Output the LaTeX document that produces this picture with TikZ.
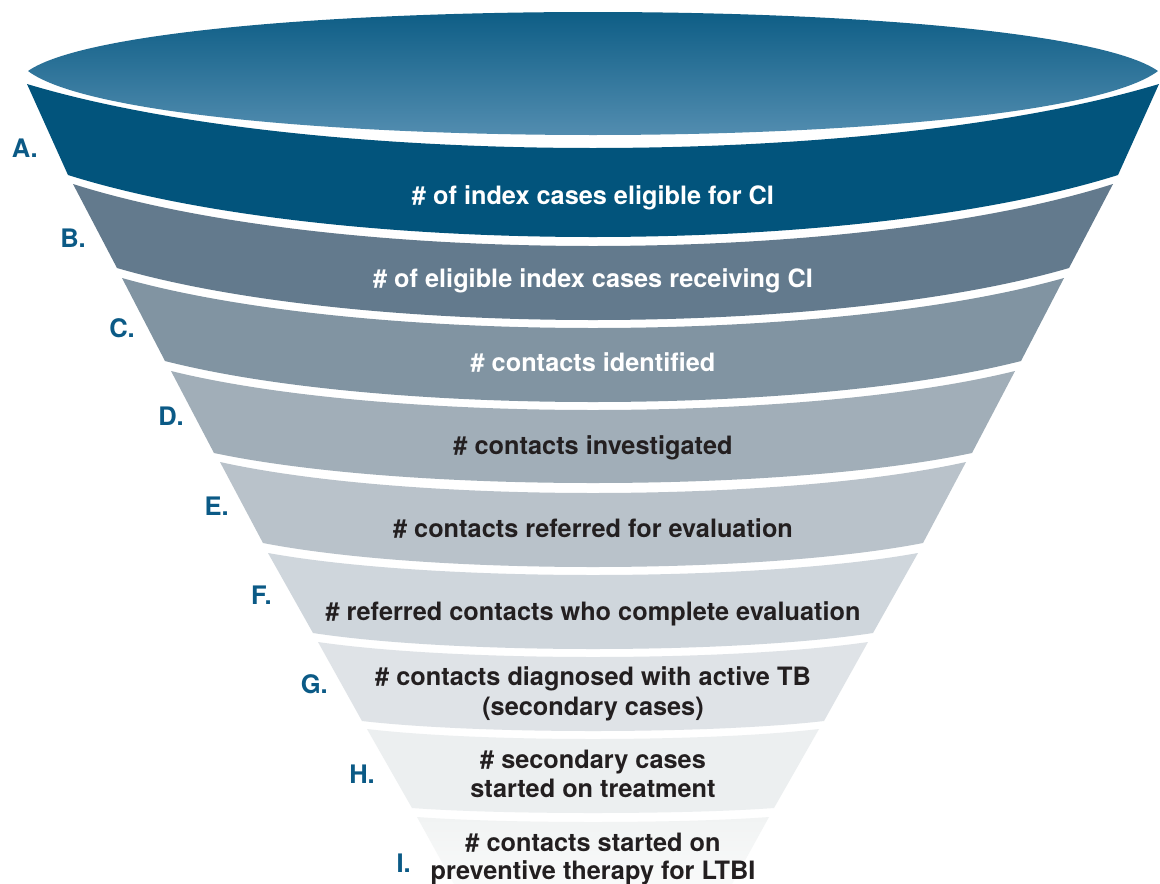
\documentclass[tikz,border=0pt]{standalone}
\usepackage{fontspec}
\setmainfont{TeX Gyre Heros}
\definecolor{bandA}{HTML}{02547C}
\definecolor{bandB}{HTML}{637A8D}
\definecolor{bandC}{HTML}{8194A2}
\definecolor{bandD}{HTML}{A1AEB8}
\definecolor{bandE}{HTML}{B9C2CA}
\definecolor{bandF}{HTML}{CFD6DC}
\definecolor{bandG}{HTML}{DFE3E7}
\definecolor{bandH}{HTML}{ECEFF0}
\definecolor{bandItop}{HTML}{F1F3F3}
\definecolor{bandIbot}{HTML}{F9FAFA}
\definecolor{ellTop}{HTML}{03567F}
\definecolor{ellMid}{HTML}{086D94}
\definecolor{ellBot}{HTML}{5E95B7}
\definecolor{labelblue}{HTML}{0B5A86}
\definecolor{darktext}{HTML}{231F20}
% band: #1 yt, #2 top half width, #3 top sag, #4 yb, #5 bottom half width, #6 bottom sag, #7 fill options
\newcommand{\funnelband}[7]{%
  \path[#7] ({593-#2},#1) .. controls ({593-0.5*#2},{#1+1.3333*#3}) and ({593+0.5*#2},{#1+1.3333*#3}) .. ({593+#2},#1)
    -- ({593+#5},#4) .. controls ({593+0.5*#5},{#4+1.3333*#6}) and ({593-0.5*#5},{#4+1.3333*#6}) .. ({593-#5},#4) -- cycle;}
\begin{document}
\begin{tikzpicture}[x=1pt,y=-1pt,
  bandtext/.style={font=\bfseries\fontsize{25.3}{30}\selectfont, anchor=base, inner sep=0pt},
  lighttext/.style={bandtext, text=white},
  darktxt/.style={bandtext, text=darktext},
  steplabel/.style={font=\bfseries\fontsize{25.5}{30}\selectfont, anchor=base east, inner sep=0pt, text=labelblue}]
\useasboundingbox[fill=white] (0,0) rectangle (1160,884);
% top ellipse (mouth of the funnel)
\shade[top color=ellTop, middle color=ellMid, bottom color=ellBot]
  (28,71) .. controls ({593-0.8*565},{71-1.3333*59}) and ({593+0.8*565},{71-1.3333*59}) .. (1158,71)
  .. controls ({593+0.8*565},{71+1.3333*64}) and ({593-0.8*565},{71+1.3333*64}) .. (28,71) -- cycle;
% bands
\funnelband{84}{566}{64}{175}{525}{62}{fill=bandA}
\funnelband{184}{520}{62}{268}{476}{52}{fill=bandB}
\funnelband{278}{471}{50}{361}{428}{41}{fill=bandC}
\funnelband{371}{422}{39}{453}{379}{30}{fill=bandD}
\funnelband{462}{373}{31}{543}{330}{24}{fill=bandE}
\funnelband{553}{325}{22}{633}{280}{16}{fill=bandF}
\funnelband{642}{275}{15}{721}{231}{10}{fill=bandG}
\funnelband{729}{226}{10}{808}{181}{5}{fill=bandH}
\funnelband{817}{176}{5}{884}{139}{0}{top color=bandItop, bottom color=bandIbot}
% band texts
\node[lighttext] (tA) at (593,204) {\# of index cases eligible for CI};
\node[lighttext] (tB) at (593,287) {\# of eligible index cases receiving CI};
\node[lighttext] (tC) at (593,371) {\# contacts identified};
\node[darktxt] (tD) at (593,454) {\# contacts investigated};
\node[darktxt] (tE) at (593,537) {\# contacts referred for evaluation};
\node[darktxt] (tF) at (593,620) {\# referred contacts who complete evaluation};
\node[darktxt] (tG1) at (593,685) {\# contacts diagnosed with active TB};
\node[darktxt] (tG2) at (593,715) {(secondary cases)};
\node[darktxt] (tH1) at (593,768) {\# secondary cases};
\node[darktxt] (tH2) at (593,797) {started on treatment};
\node[darktxt] (tI1) at (593,851) {\# contacts started on};
\node[darktxt] (tI2) at (593,879) {preventive therapy for LTBI};
% step labels
\node[steplabel] (lA) at (38,157) {A.};
\node[steplabel] (lB) at (86,247) {B.};
\node[steplabel] (lC) at (135,337) {C.};
\node[steplabel] (lD) at (184,425) {D.};
\node[steplabel] (lE) at (229,515) {E.};
\node[steplabel] (lF) at (272,604) {F.};
\node[steplabel] (lG) at (328,693) {G.};
\node[steplabel] (lH) at (375,783) {H.};
\node[steplabel] (lI) at (411,872) {I.};
\end{tikzpicture}
\end{document}
